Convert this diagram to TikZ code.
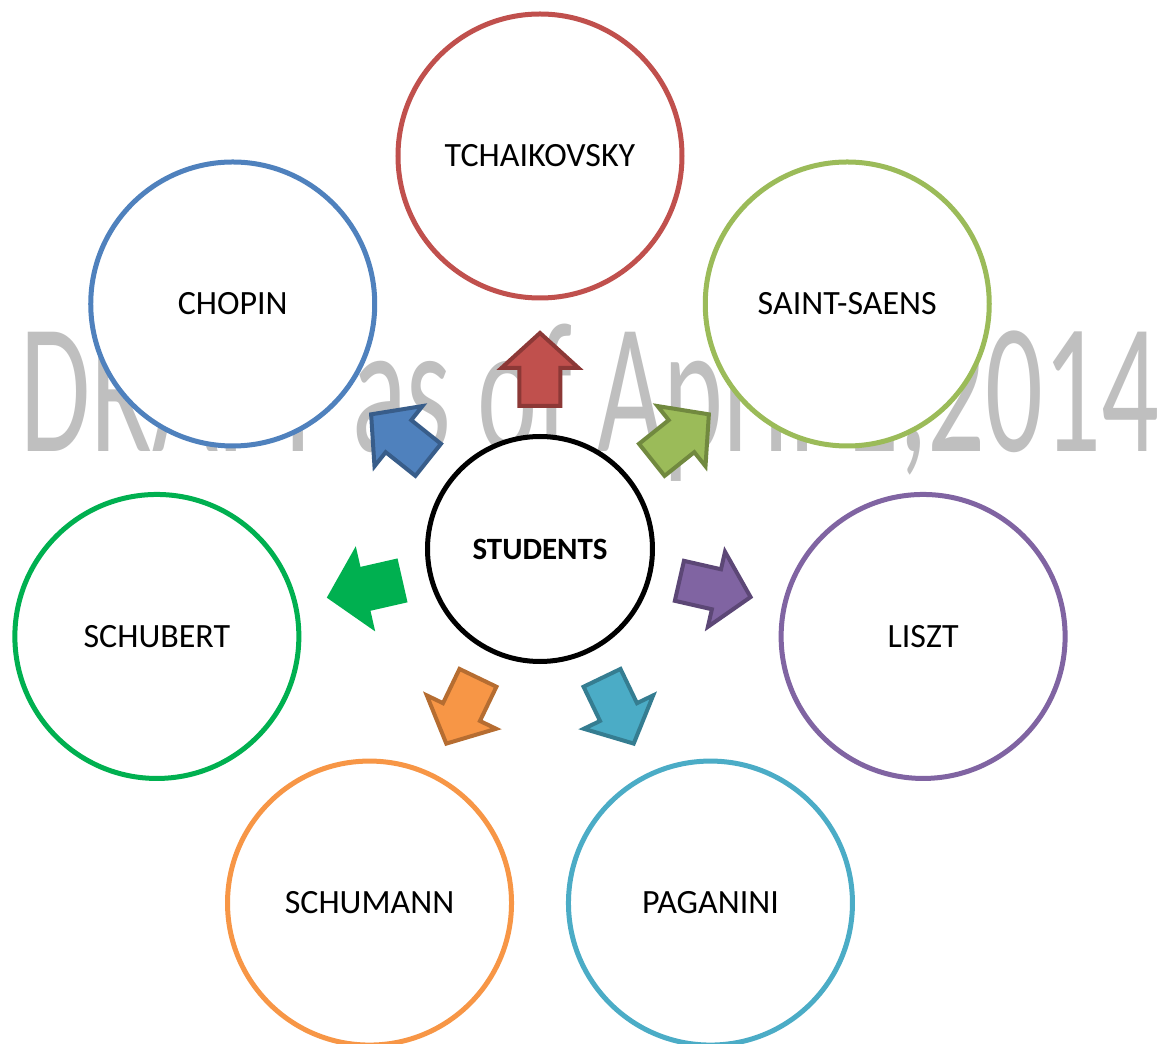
\documentclass[tikz,border=0pt]{standalone}
\usepackage{fontspec}
\setmainfont{Carlito}
\usepackage{graphicx}
\definecolor{tred}{HTML}{C0504D}
\definecolor{tredd}{HTML}{8C3836}
\definecolor{tblue}{HTML}{4F81BD}
\definecolor{tblued}{HTML}{385D8A}
\definecolor{tolive}{HTML}{9BBB59}
\definecolor{tolived}{HTML}{71893F}
\definecolor{tpurple}{HTML}{8064A2}
\definecolor{tpurpled}{HTML}{5C4776}
\definecolor{taqua}{HTML}{4BACC6}
\definecolor{taquad}{HTML}{357D91}
\definecolor{torange}{HTML}{F79646}
\definecolor{toranged}{HTML}{B66D31}
\definecolor{tgreen}{HTML}{00B050}
\definecolor{wmark}{HTML}{BFBFBF}
\tikzset{
  composer/.style={circle, draw, fill=white, line width=5pt, minimum size=284pt,
    inner sep=0pt, text=black, font=\fontsize{34}{40}\selectfont},
  blockarrow/.pic={\path[pic actions] (143,-20.5) -- (181,-20.5) -- (181,-38.5) -- (216,0)
    -- (181,38.5) -- (181,20.5) -- (143,20.5) -- cycle;}
}
\begin{document}
\begin{tikzpicture}[x=1pt,y=1pt]
  \useasboundingbox (-540,-495) rectangle (620,549);
  \node[anchor=base west, inner sep=0pt, text=wmark] (draft) at (-520,97)
    {\resizebox{1138pt}{129pt}{DRAFT as of April 1,2014}};
  \node[circle, draw, fill=white, line width=5pt, minimum size=225pt, inner sep=0pt,
    font=\fontsize{31}{36}\selectfont\bfseries] (students) at (0,0) {STUDENTS};
  \node[composer, draw=tred] (tchaikovsky) at (90:393) {TCHAIKOVSKY};
  \node[composer, draw=tolive] (saintsaens) at (38.57:393) {SAINT-SAENS};
  \node[composer, draw=tpurple] (liszt) at (-12.86:393) {LISZT};
  \node[composer, draw=taqua] (paganini) at (-64.29:393) {PAGANINI};
  \node[composer, draw=torange] (schumann) at (-115.71:393) {SCHUMANN};
  \node[composer, draw=tgreen] (schubert) at (-167.14:393) {SCHUBERT};
  \node[composer, draw=tblue] (chopin) at (141.43:393) {CHOPIN};
  \pic[rotate=90, fill=tred, draw=tredd, line width=4pt] {blockarrow};
  \pic[rotate=38.57, fill=tolive, draw=tolived, line width=4pt] {blockarrow};
  \pic[rotate=-12.86, fill=tpurple, draw=tpurpled, line width=4pt] {blockarrow};
  \pic[rotate=-64.29, fill=taqua, draw=taquad, line width=4pt] {blockarrow};
  \pic[rotate=-115.71, fill=torange, draw=toranged, line width=4pt] {blockarrow};
  \pic[rotate=-167.14, fill=tgreen, draw=tgreen, line width=4pt] {blockarrow};
  \pic[rotate=141.43, fill=tblue, draw=tblued, line width=4pt] {blockarrow};
\end{tikzpicture}
\end{document}
